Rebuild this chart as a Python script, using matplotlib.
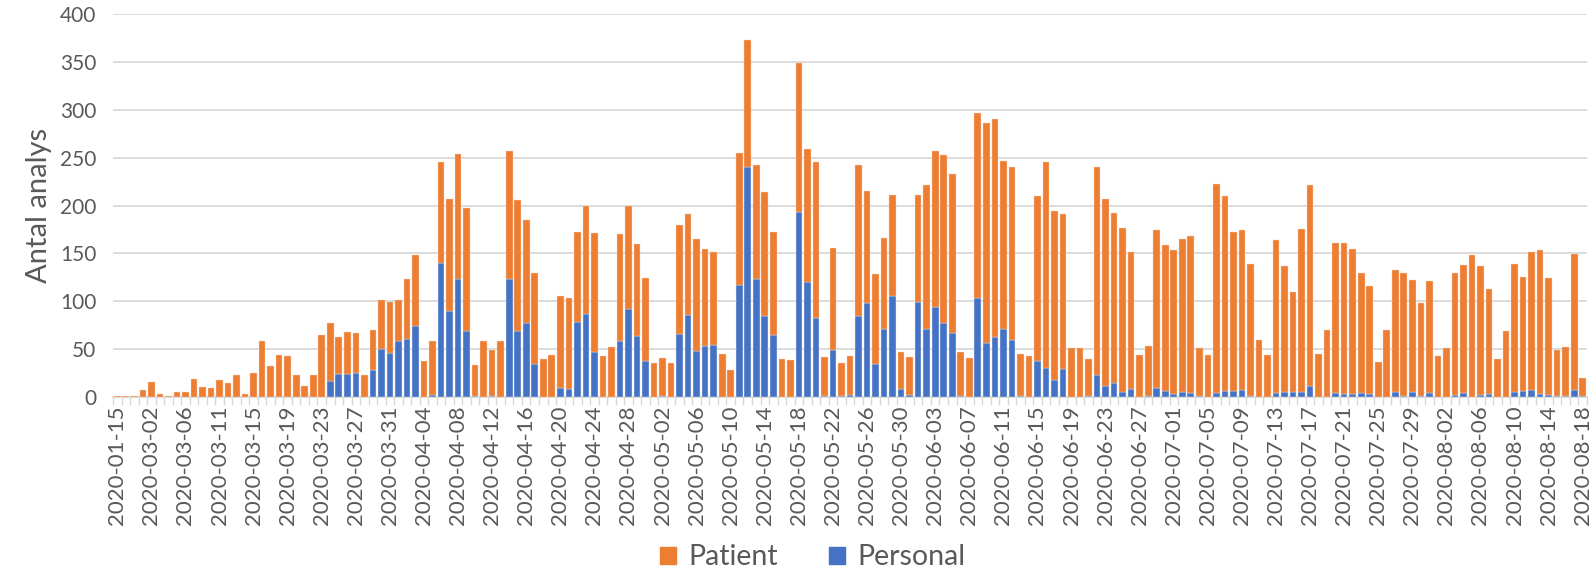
import numpy as np
import pandas as pd
import matplotlib
matplotlib.use('Agg')
import matplotlib.pyplot as plt
from matplotlib.patches import Patch

plt.rcParams['font.family'] = ['Lato', 'DejaVu Sans']

# categories: dates with samples (a few early dates are not shown on the axis)
dates = (['2020-01-15', '2020-02-27', '2020-02-28', '2020-03-01']
         + [d.strftime('%Y-%m-%d') for d in pd.date_range('2020-03-02', '2020-03-06')]
         + ['2020-03-08', '2020-03-09', '2020-03-10']
         + [d.strftime('%Y-%m-%d') for d in pd.date_range('2020-03-11', '2020-08-18')])

personal = [0] * 25 + [
    17, 24, 24, 25, 0, 28, 50, 46, 59, 61, 74, 0, 2, 140, 90, 123, 69, 1, 0, 1,
    0, 123, 69, 77, 34, 0, 0, 9, 8, 78, 87, 47, 0, 0, 59, 92, 64, 38, 0, 1,
    0, 66, 86, 48, 53, 54, 0, 0, 117, 240, 123, 85, 65, 0, 0, 193, 120, 82, 1, 49,
    1, 2, 85, 98, 34, 71, 106, 8, 2, 99, 71, 94, 77, 67, 1, 0, 103, 56, 63, 71,
    60, 1, 0, 38, 30, 18, 29, 0, 0, 1, 23, 11, 15, 5, 8, 0, 1, 9, 6, 3,
    5, 4, 1, 0, 4, 6, 6, 7, 1, 0, 0, 4, 5, 5, 5, 11, 0, 0, 4, 3,
    3, 4, 3, 0, 0, 5, 1, 5, 1, 4, 0, 0, 2, 4, 0, 2, 3, 0, 0, 5,
    6, 7, 3, 2, 1, 1, 7, 1]

patient = [
    1, 1, 1, 7, 16, 3, 1, 5, 5, 19, 10, 9, 18, 15, 23, 3, 25, 59, 32, 44,
    43, 23, 12, 23, 65, 60, 39, 44, 42, 23, 42, 51, 53, 42, 62, 74, 38, 56, 105, 117,
    131, 128, 32, 59, 48, 58, 134, 137, 108, 96, 40, 44, 97, 95, 94, 112, 124, 43, 52, 111,
    107, 96, 86, 36, 40, 35, 114, 105, 117, 102, 97, 45, 28, 138, 133, 119, 129, 107, 40, 39,
    156, 139, 163, 41, 107, 34, 41, 157, 117, 94, 95, 105, 39, 40, 112, 150, 163, 176, 166, 46,
    41, 194, 230, 227, 176, 180, 44, 43, 172, 215, 176, 162, 51, 51, 39, 217, 196, 177, 172, 143,
    44, 52, 165, 153, 151, 160, 164, 50, 44, 218, 204, 166, 167, 138, 60, 44, 160, 132, 105, 170,
    210, 45, 70, 157, 158, 152, 126, 113, 37, 70, 128, 129, 117, 97, 117, 43, 51, 127, 134, 148,
    135, 110, 40, 69, 134, 119, 144, 151, 122, 48, 51, 142, 19]

orange = '#ED7D31'
blue = '#4472C4'
grid_c = '#D9D9D9'
text_c = '#595959'

x = np.arange(len(dates))

fig = plt.figure(figsize=(15.94, 5.70), dpi=100)
ax = fig.add_axes([0.0709, 0.3035, 0.9247, 0.6719])

ax.bar(x, personal, width=0.78, color=blue, edgecolor='#F0F0F0', linewidth=0.3, zorder=3)
ax.bar(x, patient, bottom=personal, width=0.78, color=orange, edgecolor='#F8D8C4',
       linewidth=0.3, zorder=3)

ax.set_xlim(-0.5, len(dates) - 0.5)
ax.set_ylim(0, 400)
ax.set_yticks(range(0, 401, 50))
ax.yaxis.grid(True, color=grid_c, linewidth=1.3, zorder=0)
ax.set_axisbelow(True)

ax.set_xticks(x[::4])
ax.set_xticklabels(dates[::4], rotation=90, fontsize=16, color=text_c)
ax.set_xticks(np.arange(-0.5, len(dates), 1), minor=True)
ax.tick_params(axis='x', which='major', length=0, pad=6)
ax.tick_params(axis='x', which='minor', length=6, color=grid_c, width=1)
ax.tick_params(axis='y', length=0, labelsize=15, labelcolor=text_c, pad=12)

for s in ['top', 'right', 'left']:
    ax.spines[s].set_visible(False)
ax.spines['bottom'].set_color(grid_c)
ax.spines['bottom'].set_linewidth(1.3)

ax.set_ylabel('Antal analys', fontsize=21, color=text_c, labelpad=6)

handles = [Patch(color=orange, label='Patient'), Patch(color=blue, label='Personal')]
fig.legend(handles=handles, loc='center', bbox_to_anchor=(0.51, 0.022), ncol=2,
           frameon=False, fontsize=20.5, labelcolor=text_c, handlelength=0.55,
           handleheight=0.55, columnspacing=1.8, handletextpad=0.45)

fig.savefig('out.png', dpi=100)
